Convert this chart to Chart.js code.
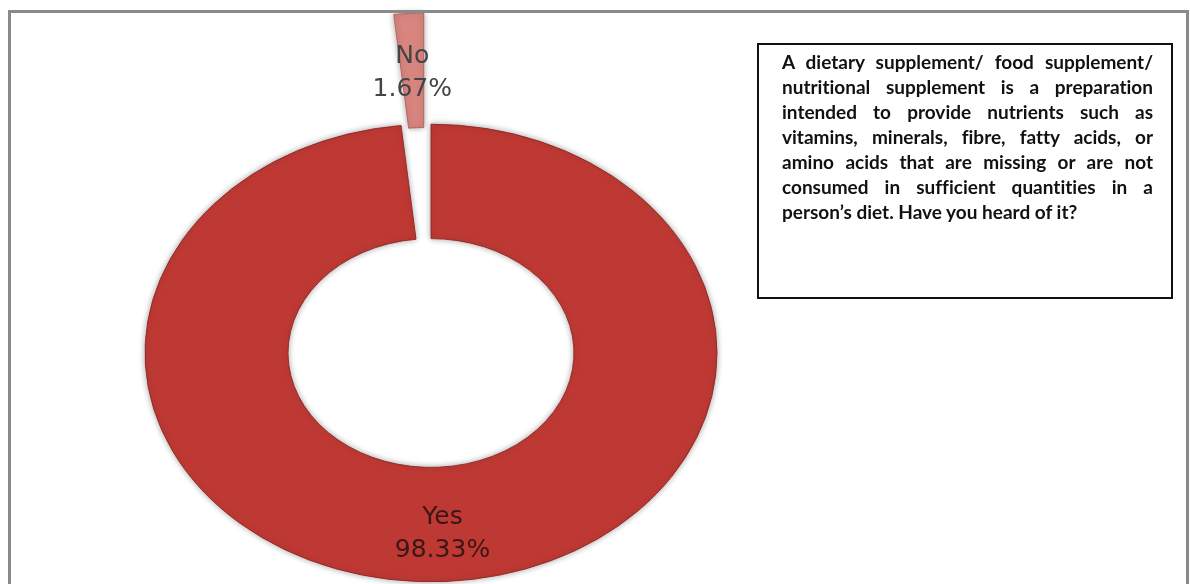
<!DOCTYPE html>
<html>
<head>
<meta charset="utf-8">
<script src="https://cdn.jsdelivr.net/npm/chart.js@4/dist/chart.umd.min.js"></script>
<style>
    html, body { margin: 0; padding: 0; background: #fff; overflow: hidden; }
    #wrap { position: relative; width: 1190px; height: 584px; }
    #pieChart { position: absolute; left: 0; top: 0; }
    #frame {
        position: absolute; left: 8px; top: 10px; width: 1181px; height: 620px;
        box-sizing: border-box; border: 3px solid #8a8a8a; pointer-events: none;
    }
    #question {
        position: absolute; left: 757px; top: 43px; width: 416px; height: 256px;
        box-sizing: border-box; border: 2px solid #111; padding: 4px 18px 0 23px;
        font-family: Lato, "Open Sans", sans-serif; font-weight: bold; font-size: 19px;
        font-variant-ligatures: none; line-height: 25px; color: #111;
    }
    #question div { text-align: justify; text-align-last: justify; white-space: nowrap; }
    #question div.last { text-align-last: left; }
</style>
</head>
<body>
<div id="wrap">
    <canvas id="pieChart" width="1190" height="584"></canvas>
    <div id="question">
        <div>A dietary supplement/ food supplement/</div>
        <div>nutritional supplement is a preparation</div>
        <div>intended to provide nutrients such as</div>
        <div>vitamins, minerals, fibre, fatty acids, or</div>
        <div>amino acids that are missing or are not</div>
        <div>consumed in sufficient quantities in a</div>
        <div class="last">person’s diet. Have you heard of it?</div>
    </div>
    <div id="frame"></div>
</div>
<script>
const answers = ['Yes', 'No'];
const shares = [98.33, 1.67];            // percent of respondents
const sliceColors = ['#bf3934', '#d8857f'];
const pullOut = [0, 139];                // "No" is pulled out of the ring (px)

const squash = 0.8;                      // ring is drawn as a flattened ellipse

// draw the ring flattened, with each arc moved out along its middle angle
const ellipsePlugin = {
    id: 'ellipse',
    beforeDatasetDraw(chart, args) {
        const meta = args.meta;
        const ctx = chart.ctx;
        const cx = meta.data[0].x, cy = meta.data[0].y;
        ctx.save();
        ctx.translate(cx, cy);
        ctx.scale(1, squash);
        ctx.translate(-cx, -cy);
        ctx.shadowColor = 'rgba(0,0,0,0.35)';
        ctx.shadowBlur = 6;
        meta.data.forEach((arc, i) => {
            const mid = (arc.startAngle + arc.endAngle) / 2;
            ctx.save();
            ctx.translate(Math.cos(mid) * pullOut[i], Math.sin(mid) * pullOut[i]);
            arc.draw(ctx, chart.chartArea);
            ctx.restore();
        });
        ctx.restore();
        return false;
    }
};

// category name and percentage inside each slice
const sliceLabels = {
    id: 'sliceLabels',
    afterDraw(chart) {
        const ctx = chart.ctx;
        const meta = chart.getDatasetMeta(0);
        ctx.save();
        ctx.font = '25px "DejaVu Sans", sans-serif';
        ctx.textAlign = 'center';
        ctx.textBaseline = 'alphabetic';
        meta.data.forEach((arc, i) => {
            const p = arc.getProps(['x', 'y', 'startAngle', 'endAngle', 'innerRadius', 'outerRadius']);
            const mid = (p.startAngle + p.endAngle) / 2;
            const r = p.innerRadius + (p.outerRadius - p.innerRadius) * 0.53 + pullOut[i];
            const x = p.x + Math.cos(mid) * r;
            const y = p.y + Math.sin(mid) * r * squash;
            ctx.fillStyle = i === 0 ? '#3a1614' : '#444';
            ctx.fillText(answers[i], x, y - 4);
            ctx.fillText(shares[i].toFixed(2) + '%', x, y + 29);
        });
        ctx.restore();
    }
};

new Chart(document.getElementById('pieChart'), {
    type: 'doughnut',
    data: {
        labels: answers,
        datasets: [{
            data: shares,
            backgroundColor: sliceColors,
            borderColor: ['#8e2622', '#b0605b'],
            borderWidth: 1
        }]
    },
    options: {
        responsive: false,
        animation: false,
        radius: 286,
        cutout: '50%',
        rotation: 0,
        layout: { padding: { left: 0, right: 328, top: 122, bottom: 0 } },
        plugins: {
            legend: { display: false },
            tooltip: { enabled: false }
        }
    },
    plugins: [ellipsePlugin, sliceLabels]
});
</script>
</body>
</html>
